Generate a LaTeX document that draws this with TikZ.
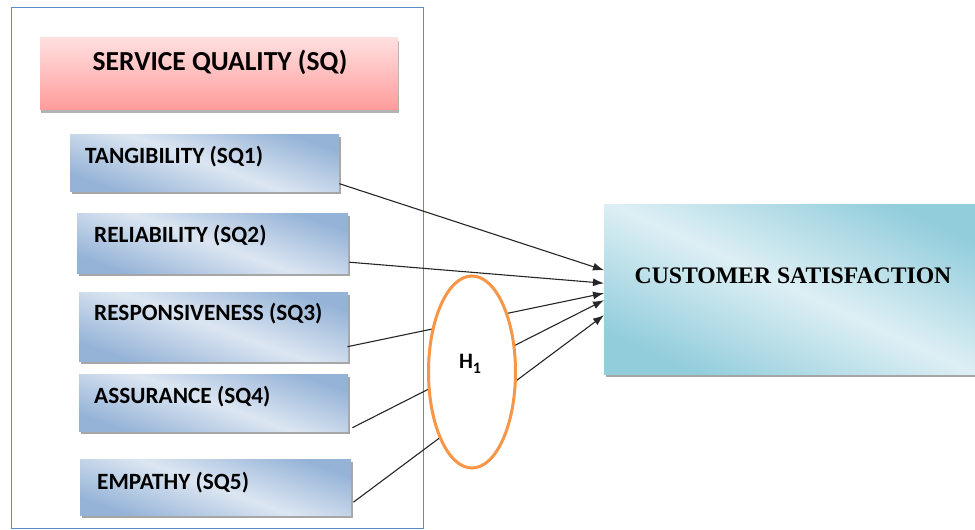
\documentclass[tikz,border=0pt]{standalone}
\usepackage{fontspec}
\newfontfamily\carlito{Carlito}
\newfontfamily\timesbold{Liberation Serif}
\usetikzlibrary{shapes.geometric,shadows,calc,arrows.meta}
\definecolor{frameblue}{HTML}{5B8CC8}
\definecolor{dimblue}{HTML}{95B3D7}
\definecolor{paleblue}{HTML}{DCE6F2}
\definecolor{rosetop}{HTML}{FFE0E0}
\definecolor{rosebot}{HTML}{FF9C9C}
\definecolor{tealdark}{HTML}{92CDDC}
\definecolor{teallight}{HTML}{DDEFF4}
\definecolor{hyporange}{HTML}{F79646}
\tikzset{
  boxshadow/.style={general shadow={fill=black!35, shadow xshift=2pt, shadow yshift=-3pt}},
  dimbox/.style={rectangle, anchor=north west, inner sep=0pt, boxshadow,
    top color=dimblue, bottom color=dimblue, middle color=paleblue, shading angle=-20},
  dimtext/.style={anchor=west, inner sep=0pt, font=\carlito\bfseries\fontsize{23.3}{25}\selectfont},
  headbox/.style={rectangle, anchor=north west, inner sep=0pt,
    general shadow={fill=black!30, shadow xshift=1pt, shadow yshift=-4pt},
    top color=rosetop, bottom color=rosebot},
  outcome/.style={rectangle, anchor=north west, inner sep=0pt, boxshadow,
    top color=tealdark, bottom color=tealdark, middle color=teallight, shading angle=-25},
  conn/.style={draw=black!85, line width=1.1pt, -{Latex[length=11pt,width=8pt]}},
  hyp/.style={ellipse, draw=hyporange, line width=3pt, fill=white,
    minimum width=87pt, minimum height=192pt, inner sep=0pt}
}
\begin{document}
\begin{tikzpicture}[x=1pt,y=-1pt]
\useasboundingbox (0,0) rectangle (975,530);
\clip (0,0) rectangle (975,530);
\fill[white] (0,0) rectangle (975,530);

% frame round the service-quality block
\draw[frameblue, line width=0.9pt] (11,7) rectangle (423,528);

% heading
\node[headbox, minimum width=358pt, minimum height=72pt] (sq) at (40,37) {};
\node[font=\carlito\bfseries\fontsize{27.5}{29}\selectfont, inner sep=0pt] (sqt) at (220,62) {SERVICE QUALITY (SQ)};

% dimensions
\node[dimbox, minimum width=269pt, minimum height=57pt] (tang) at (70,134) {};
\node[dimtext] (tangt) at (85,157) {TANGIBILITY (SQ1)};
\node[dimbox, minimum width=271pt, minimum height=60pt] (rel) at (77,213) {};
\node[dimtext] (relt) at (94,236) {RELIABILITY (SQ2)};
\node[dimbox, minimum width=269pt, minimum height=69pt] (resp) at (79,292) {};
\node[dimtext] (respt) at (94,314) {RESPONSIVENESS (SQ3)};
\node[dimbox, minimum width=269pt, minimum height=57pt] (assu) at (79,374) {};
\node[dimtext] (assut) at (94,397) {ASSURANCE (SQ4)};
\node[dimbox, minimum width=271pt, minimum height=56pt] (emp) at (80,459) {};
\node[dimtext] (empt) at (97,483) {EMPATHY (SQ5)};

% outcome
\node[outcome, minimum width=380pt, minimum height=170pt] (cs) at (604,204) {};
\node[font=\timesbold\bfseries\fontsize{23.7}{25}\selectfont, inner sep=0pt] (cst) at (793,276) {CUSTOMER SATISFACTION};

% paths
\draw[conn] ($(tang.east)+(0,21)$) -- ($(cs.west)+(0,-19)$);
\draw[conn] ($(rel.east)+(1,19)$) -- ($(cs.west)+(0,-6)$);
\draw[conn] ($(resp.east)+(-1,20)$) -- ($(cs.west)+(0,4)$);
\draw[conn] ($(assu.east)+(4,25)$) -- ($(cs.west)+(0,11)$);
\draw[conn] ($(emp.east)+(2,15)$) -- ($(cs.west)+(0,26)$);

% hypothesis
\node[hyp] (h) at (472,372) {};
\node[font=\carlito\bfseries\fontsize{22}{24}\selectfont, inner sep=0pt] (ht) at (470,364) {H\raisebox{-0.25em}{\fontsize{16}{18}\selectfont 1}};
\end{tikzpicture}
\end{document}
